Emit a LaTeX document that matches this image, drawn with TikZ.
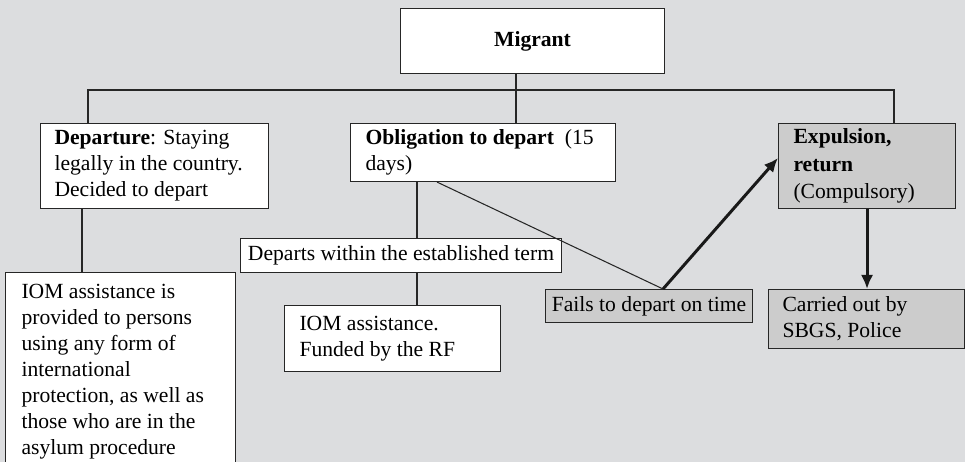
\documentclass[tikz,border=0pt]{standalone}
\usepackage{fontspec}
\setmainfont{Liberation Serif}
\usetikzlibrary{arrows.meta}
\newdimen\px \px=0.02cm
\definecolor{paper}{RGB}{220,221,223}
\definecolor{shade}{RGB}{204,204,204}
\begin{document}
\begin{tikzpicture}[x=0.02cm,y=-0.02cm,
        every node/.style={font=\fontsize{12.3}{14.8}\selectfont},
        box/.style={draw=black!85,line width=0.6pt,fill=white,anchor=north west,
            align=flush left,inner ysep=0pt},
        greybox/.style={box,fill=shade},
        link/.style={draw=black!85,line width=0.6pt},
        push/.style={draw=black!90,line width=1.7pt,-{Latex[length=8pt,width=7pt]}}]
    \fill[paper] (0,0) rectangle (965,462);
    \useasboundingbox (0,0) rectangle (965,462);
    \clip (0,0) rectangle (965,462);

    \node[box,align=center,minimum width=264\px,minimum height=65\px] (migrant) at (400,8) {\textbf{Migrant}};

    \node[box,inner xsep=14\px,text width=200\px,minimum height=85\px] (depart) at (40,123)
        {\textbf{Departure}: Staying\\legally in the country.\\Decided to depart};
    \node[box,inner xsep=15\px,text width=235\px,minimum height=58\px] (oblig) at (350,123)
        {\mbox{\textbf{Obligation to depart}\ \ (15}\\days)};
    \node[greybox,inner xsep=15\px,text width=147\px,minimum height=85\px] (expul) at (778,123)
        {\textbf{Expulsion,}\\[1pt]\textbf{return}\\[1pt](Compulsory)};

    \node[box,inner xsep=16\px,inner ysep=12\px,text width=198\px] (iomA) at (5,272)
        {IOM assistance is\\provided to persons\\using any form of\\international\\protection, as well as\\those who are in the\\asylum procedure};
    \node[box,align=center,minimum width=321\px,minimum height=34\px] (within) at (240,238)
        {Departs within the established term};
    \node[box,inner xsep=15\px,text width=186\px,minimum height=66\px] (iomB) at (284,305)
        {IOM assistance.\\Funded by the RF};
    \node[greybox,align=center,minimum width=207\px,minimum height=33\px,inner xsep=2pt] (fails) at (545,289)
        {Fails to depart on time};
    \node[greybox,inner xsep=14\px,text width=168\px,minimum height=59\px] (carried) at (768,289)
        {Carried out by\\SBGS, Police};

    \coordinate (busL) at (88,90);
    \coordinate (busM) at (516,90);
    \coordinate (busR) at (894,90);
    \coordinate (vx) at (417,0);

    \draw[link] (migrant.south -| busM) -- (oblig.north -| busM);
    \draw[link] (depart.north -| busL) |- (busR) -- (expul.north -| busR);
    \draw[link] ([xshift=42\px]depart.south west) -- ([xshift=77\px]iomA.north west);
    \draw[link] (oblig.south -| vx) -- (within.north -| vx);
    \draw[link] (within.south -| vx) -- (iomB.north -| vx);
    \draw[link] ([xshift=87\px]oblig.south west) -- ([xshift=14\px]fails.north);
    \draw[push] ([xshift=14\px]fails.north) -- ([yshift=8\px]expul.west);
    \draw[push] (expul.south) -- (expul.south |- carried.north);
\end{tikzpicture}
\end{document}
